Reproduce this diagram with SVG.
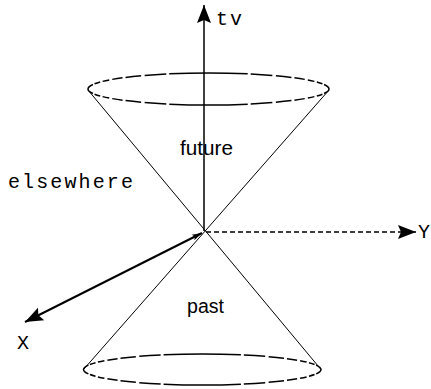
<svg xmlns="http://www.w3.org/2000/svg" width="431" height="389" viewBox="0 0 431 389">
<style>
.bg{fill:#ffffff}
.ell{fill:none;stroke:#000;stroke-width:1.5}
.cone{fill:none;stroke:#000;stroke-width:1}
.axis{fill:none;stroke:#000;stroke-width:1.5}
.dash{stroke-dasharray:5 3}
.thick{stroke-width:2}
.mono{font-family:"Liberation Mono","DejaVu Sans Mono",monospace;font-size:20px;fill:#000}
.sans{font-family:"Liberation Sans",Arial,sans-serif;font-size:20px;fill:#000}
</style>
<defs>
<marker id="ah" viewBox="-20 -8 21 16" refX="0" refY="0" markerWidth="21" markerHeight="16" orient="auto" markerUnits="userSpaceOnUse">
<path d="M0,0 L-18,-7 L-15,0 L-18,7 Z" fill="#000"/>
</marker>
<marker id="ahs" viewBox="-12 -5 13 10" refX="0" refY="0" markerWidth="13" markerHeight="10" orient="auto-start-reverse" markerUnits="userSpaceOnUse">
<path d="M0,0 L-10,-3 L-8,0 L-10,3 Z" fill="#000"/>
</marker>
</defs>
<rect class="bg" x="0" y="0" width="431" height="389"/>
<g id="cone">
<path class="cone" d="M88,90 L321,369.5 M329,90 L83.5,369.5"/>
</g>
<g id="top-ellipse">
<path class="ell" d="M169.27,73.87 A120.5,16 0 0 1 247.73,73.87 M250.70,74.01 A120.5,16 0 0 1 272.35,75.43 M275.88,75.74 A120.5,16 0 0 1 291.45,77.39 M294.45,77.79 A120.5,16 0 0 1 304.73,79.37 M307.80,79.94 A120.5,16 0 0 1 314.40,81.36 M316.81,81.99 A120.5,16 0 0 1 322.43,83.79 M324.04,84.46 A120.5,16 0 0 1 324.04,93.54 M322.43,94.21 A120.5,16 0 0 1 316.81,96.01 M314.40,96.64 A120.5,16 0 0 1 307.80,98.06 M304.73,98.63 A120.5,16 0 0 1 294.45,100.21 M291.45,100.61 A120.5,16 0 0 1 275.88,102.26 M272.35,102.57 A120.5,16 0 0 1 250.70,103.99 M247.73,104.13 A120.5,16 0 0 1 169.27,104.13 M166.30,103.99 A120.5,16 0 0 1 144.65,102.57 M141.12,102.26 A120.5,16 0 0 1 125.55,100.61 M122.55,100.21 A120.5,16 0 0 1 112.27,98.63 M109.20,98.06 A120.5,16 0 0 1 102.60,96.64 M100.19,96.01 A120.5,16 0 0 1 94.57,94.21 M92.96,93.54 A120.5,16 0 0 1 92.96,84.46 M94.57,83.79 A120.5,16 0 0 1 100.19,81.99 M102.60,81.36 A120.5,16 0 0 1 109.20,79.94 M112.27,79.37 A120.5,16 0 0 1 122.55,77.79 M125.55,77.39 A120.5,16 0 0 1 141.12,75.74 M144.65,75.43 A120.5,16 0 0 1 166.30,74.01"/>
</g>
<g id="bottom-ellipse">
<path class="ell" d="M163.59,354.84 A118.75,15.5 0 0 1 240.91,354.84 M243.83,354.98 A118.75,15.5 0 0 1 265.18,356.36 M268.65,356.65 A118.75,15.5 0 0 1 284.00,358.26 M286.95,358.64 A118.75,15.5 0 0 1 297.08,360.17 M300.11,360.72 A118.75,15.5 0 0 1 306.61,362.10 M308.98,362.70 A118.75,15.5 0 0 1 314.53,364.45 M316.11,365.10 A118.75,15.5 0 0 1 316.11,373.90 M314.53,374.55 A118.75,15.5 0 0 1 308.98,376.30 M306.61,376.90 A118.75,15.5 0 0 1 300.11,378.28 M297.08,378.83 A118.75,15.5 0 0 1 286.95,380.36 M284.00,380.74 A118.75,15.5 0 0 1 268.65,382.35 M265.18,382.64 A118.75,15.5 0 0 1 243.83,384.02 M240.91,384.16 A118.75,15.5 0 0 1 163.59,384.16 M160.67,384.02 A118.75,15.5 0 0 1 139.32,382.64 M135.85,382.35 A118.75,15.5 0 0 1 120.50,380.74 M117.55,380.36 A118.75,15.5 0 0 1 107.42,378.83 M104.39,378.28 A118.75,15.5 0 0 1 97.89,376.90 M95.52,376.30 A118.75,15.5 0 0 1 89.97,374.55 M88.39,373.90 A118.75,15.5 0 0 1 88.39,365.10 M89.97,364.45 A118.75,15.5 0 0 1 95.52,362.70 M97.89,362.10 A118.75,15.5 0 0 1 104.39,360.72 M107.42,360.17 A118.75,15.5 0 0 1 117.55,358.64 M120.50,358.26 A118.75,15.5 0 0 1 135.85,356.65 M139.32,356.36 A118.75,15.5 0 0 1 160.67,354.98"/>
</g>
<g id="connectors">
<path id="axis-tv" class="axis" d="M204,231 L204,5" marker-end="url(#ah)"/>
<path id="axis-y" class="axis dash" d="M206,232 L416,232" marker-end="url(#ah)"/>
<path id="axis-x" class="axis thick" d="M202,233 L25,322" marker-start="url(#ahs)" marker-end="url(#ah)"/>
</g>
<g id="labels">
<text class="mono" x="216" y="25" textLength="26" lengthAdjust="spacing">tv</text>
<text class="mono" x="8" y="188" textLength="125" lengthAdjust="spacing">elsewhere</text>
<text class="sans" x="180" y="155" textLength="53" lengthAdjust="spacingAndGlyphs">future</text>
<text class="sans" x="187" y="313" textLength="37" lengthAdjust="spacingAndGlyphs">past</text>
<text class="mono" x="17" y="349" font-size="18">X</text>
<text class="mono" x="418" y="238" font-size="17">Y</text>
</g>
</svg>
